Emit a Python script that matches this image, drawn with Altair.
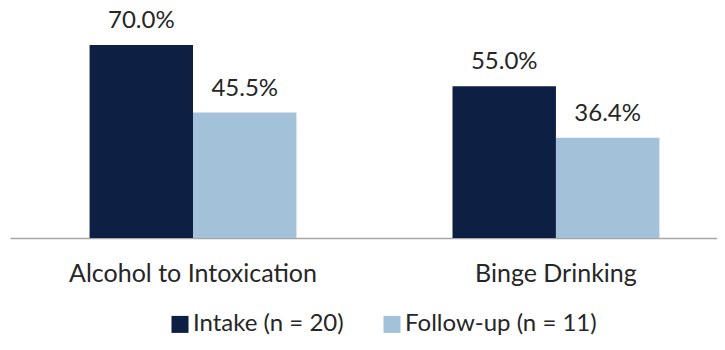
import altair as alt
import pandas as pd

categories = ["Alcohol to Intoxication", "Binge Drinking"]
series = ["Intake (n = 20)", "Follow-up (n = 11)"]
intake = [70.0, 55.0]
followup = [45.5, 36.4]
colors = ["#0d1f43", "#a3c2da"]

rows = []
for i, c in enumerate(categories):
    rows.append({"category": c, "series": series[0], "value": intake[i]})
    rows.append({"category": c, "series": series[1], "value": followup[i]})
df = pd.DataFrame(rows)

FONT = "Lato"

x = alt.X("category:N", sort=categories, title=None,
          scale=alt.Scale(paddingInner=0.43, paddingOuter=0.189, align=0.58),
          axis=alt.Axis(labelAngle=0, ticks=False, domainColor="#a6a6a6", domainWidth=1.5,
                        labelFont=FONT, labelFontSize=25, labelColor="#262626",
                        labelPadding=23, labelLimit=0, grid=False))
xo = alt.XOffset("series:N", sort=series, scale=alt.Scale(paddingInner=0, paddingOuter=0))
y = alt.Y("value:Q", scale=alt.Scale(domain=[0, 80]), axis=None)

bars = alt.Chart(df).mark_bar().encode(
    x=x, xOffset=xo, y=y,
    color=alt.Color("series:N", sort=series,
                    scale=alt.Scale(domain=series, range=colors),
                    legend=alt.Legend(title=None, orient="none", direction="horizontal",
                                      legendX=158, legendY=295,
                                      symbolType="square", symbolSize=289,
                                      symbolStrokeWidth=0, symbolOpacity=1,
                                      labelFont=FONT, labelFontSize=24, labelColor="#262626",
                                      labelOffset=1, columnPadding=36, labelLimit=400)),
)

labels = alt.Chart(df).transform_calculate(
    label="format(datum.value, '.1f') + '%'"
).mark_text(font=FONT, fontSize=24, color="#262626", baseline="alphabetic", dy=-17).encode(
    x=x, xOffset=xo, y=y, text="label:N"
)

chart = (bars + labels).properties(
    width=707, height=220.6,
    autosize=alt.AutoSizeParams(type="none"),
    padding={"left": 2, "top": 9.4, "right": 0, "bottom": 103},
).configure_view(stroke=None)

chart.save("out.html", embed_options={"renderer": "svg", "actions": False})
